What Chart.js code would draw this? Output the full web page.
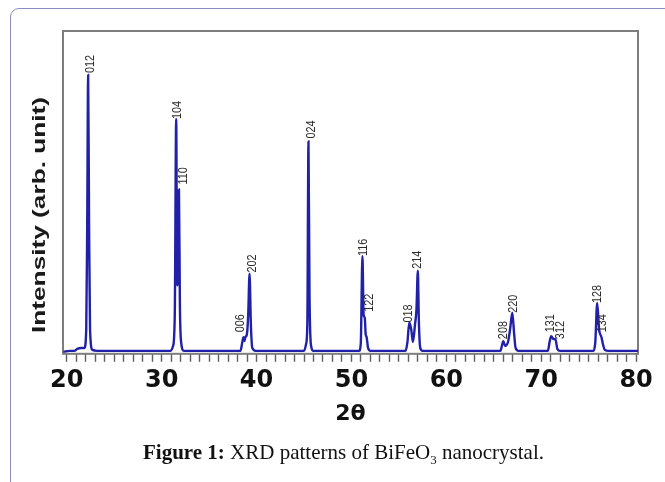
<!DOCTYPE html>
<html>
<head>
<meta charset="utf-8">
<title>XRD patterns of BiFeO3 nanocrystal</title>
<script src="https://cdn.jsdelivr.net/npm/chart.js@4.4.1/dist/chart.umd.min.js"></script>
<style>
    html, body { margin: 0; padding: 0; background: #ffffff; }
    #wrap { position: relative; width: 665px; height: 482px; overflow: hidden; }
    #box {
        position: absolute; left: 10px; top: 8px; width: 720px; height: 520px;
        border: 1.5px solid #8c8cc0; border-radius: 9px;
    }
    #xrd { position: absolute; left: 0; top: 0; }
    #caption {
        position: absolute; left: 11px; top: 440px; width: 665px;
        text-align: center; font-family: 'Liberation Serif', 'Times New Roman', serif;
        font-size: 21px; line-height: 24px; color: #111;
    }
    #caption sub { font-size: 13px; vertical-align: -5px; line-height: 0; }
</style>
</head>
<body>
<div id="wrap">
    <div id="box"></div>
    <canvas id="xrd" width="665" height="482"></canvas>
    <div id="caption"><b>Figure 1:</b> XRD patterns of BiFeO<sub>3</sub> nanocrystal.</div>
</div>
<script>
/* XRD pattern - BiFeO3 (intensity in arb. units) */

const twoTheta = [
    19.65, 20.3, 20.8, 21.1, 21.5, 21.85, 22.05, 22.15, 22.25, 22.35, 22.45, 22.7, 23.2,
    30.9, 31.2, 31.38, 31.53, 31.63, 31.7, 31.82, 31.92, 32.05, 32.35,
    38.3, 38.5, 38.62, 38.72, 38.82, 38.98, 39.12, 39.26, 39.4, 39.55, 39.9,
    45.0, 45.22, 45.35, 45.47, 45.58, 45.75, 46.0,
    50.8, 50.98, 51.16, 51.28, 51.4, 51.5, 51.6, 51.75, 52.0,
    55.7, 55.9, 56.1, 56.3, 56.48, 56.7, 56.85, 57.0, 57.1, 57.25, 57.5,
    65.7, 65.85, 66.0, 66.2, 66.5, 66.72, 66.95, 67.15, 67.3, 67.6,
    70.7, 70.88, 71.05, 71.3, 71.5, 71.7, 72.0,
    75.5, 75.7, 75.9, 76.1, 76.35, 76.5, 76.7, 77.1,
    80.2
];
const intensity = [
    2, 3, 3, 5, 6, 6, 25, 130, 285, 130, 25, 4, 3,
    3, 8, 40, 240, 70, 80, 168, 50, 12, 3,
    3, 12, 17, 13, 17, 20, 40, 82, 30, 6, 3,
    3, 10, 30, 217, 60, 8, 3,
    3, 10, 100, 40, 37, 20, 17, 6, 3,
    3, 12, 32, 25, 12, 30, 45, 85, 35, 6, 3,
    3, 8, 13, 8, 12, 25, 42, 20, 6, 3,
    3, 12, 18, 15, 15, 5, 3,
    3, 12, 52, 25, 17, 10, 4, 3,
    3
];

const peakLabels = ['012', '104', '110', '006', '202', '024', '116', '122',
                    '018', '214', '208', '220', '131', '312', '128', '134'];
const labelTheta = [22.5, 31.68, 32.3, 38.35, 39.55, 45.85, 51.25, 51.95,
                    56.05, 56.95, 66.0, 67.05, 71.05, 72.0, 76.0, 76.5];
const labelHeight = [287, 240, 173, 22, 83, 220, 100, 43,
                     32, 87, 15, 42, 22, 15, 52, 22];

const xMajorTicks = [20, 30, 40, 50, 60, 70, 80];

const points = twoTheta.map((t, i) => ({ x: t, y: intensity[i] }));

// frame round the plot area
const framePlugin = {
    id: 'frame',
    beforeDatasetsDraw(chart) {
        const a = chart.chartArea;
        const ctx = chart.ctx;
        ctx.save();
        ctx.strokeStyle = '#7d7d7d';
        ctx.lineWidth = 2;
        ctx.strokeRect(a.left, a.top, a.right - a.left, a.bottom - a.top);
        ctx.restore();
    }
};

// hkl labels above the peaks, rotated
const hklPlugin = {
    id: 'hkl',
    afterDatasetsDraw(chart) {
        const ctx = chart.ctx;
        const xs = chart.scales.x;
        const ys = chart.scales.y;
        ctx.save();
        ctx.fillStyle = '#2a2a2a';
        ctx.font = "12px 'Liberation Sans', Arial, sans-serif";
        ctx.textAlign = 'left';
        ctx.textBaseline = 'middle';
        peakLabels.forEach((txt, i) => {
            const px = xs.getPixelForValue(labelTheta[i]);
            const py = ys.getPixelForValue(labelHeight[i]);
            ctx.save();
            ctx.translate(px, py);
            ctx.rotate(-Math.PI / 2);
            ctx.scale(0.9, 1);
            ctx.fillText(txt, 0, 0);
            ctx.restore();
        });
        ctx.restore();
    }
};

// y axis title, drawn by hand so it can sit where the figure has it
const yTitlePlugin = {
    id: 'yTitle',
    afterDraw(chart) {
        const ctx = chart.ctx;
        const text = 'Intensity (arb. unit)';
        ctx.save();
        ctx.fillStyle = '#1a1a1a';
        ctx.font = "bold 19px 'Liberation Sans', Arial, sans-serif";
        const w = ctx.measureText(text).width;
        ctx.translate(40, 215);
        ctx.rotate(-Math.PI / 2);
        ctx.scale(236 / w, 1);
        ctx.textAlign = 'center';
        ctx.textBaseline = 'middle';
        ctx.fillText(text, 0, 0);
        ctx.restore();
    }
};

new Chart(document.getElementById('xrd'), {
    type: 'line',
    data: {
        datasets: [{
            label: 'BiFeO3',
            data: points,
            borderColor: '#2020a8',
            borderWidth: 2.4,
            pointRadius: 0,
            fill: false,
            cubicInterpolationMode: 'monotone'
        }]
    },
    options: {
        responsive: false,
        animation: false,
        devicePixelRatio: 1,
        layout: {
            padding: { left: 63, right: 27, top: 31, bottom: 55 }
        },
        plugins: {
            legend: { display: false },
            tooltip: { enabled: false }
        },
        scales: {
            x: {
                type: 'linear',
                min: 19.6,
                max: 80.2,
                border: { display: false },
                grid: {
                    display: true,
                    drawOnChartArea: false,
                    drawTicks: true,
                    tickLength: 8,
                    tickColor: '#5e5e5e',
                    tickWidth: 1.4
                },
                ticks: {
                    stepSize: 1,
                    autoSkip: false,
                    includeBounds: false,
                    maxRotation: 0,
                    padding: 5,
                    color: '#111111',
                    font: { family: "'DejaVu Sans', sans-serif", size: 24, weight: 'bold' },
                    callback: (v) => xMajorTicks.includes(v) ? String(v) : ''
                },
                title: {
                    display: true,
                    text: '2θ',
                    color: '#111111',
                    padding: { top: 0, bottom: 0 },
                    font: { family: "'DejaVu Sans', sans-serif", size: 22, weight: 'bold' }
                }
            },
            y: {
                display: false,
                min: 0,
                max: 330
            }
        }
    },
    plugins: [framePlugin, hklPlugin, yTitlePlugin]
});
</script>
</body>
</html>
